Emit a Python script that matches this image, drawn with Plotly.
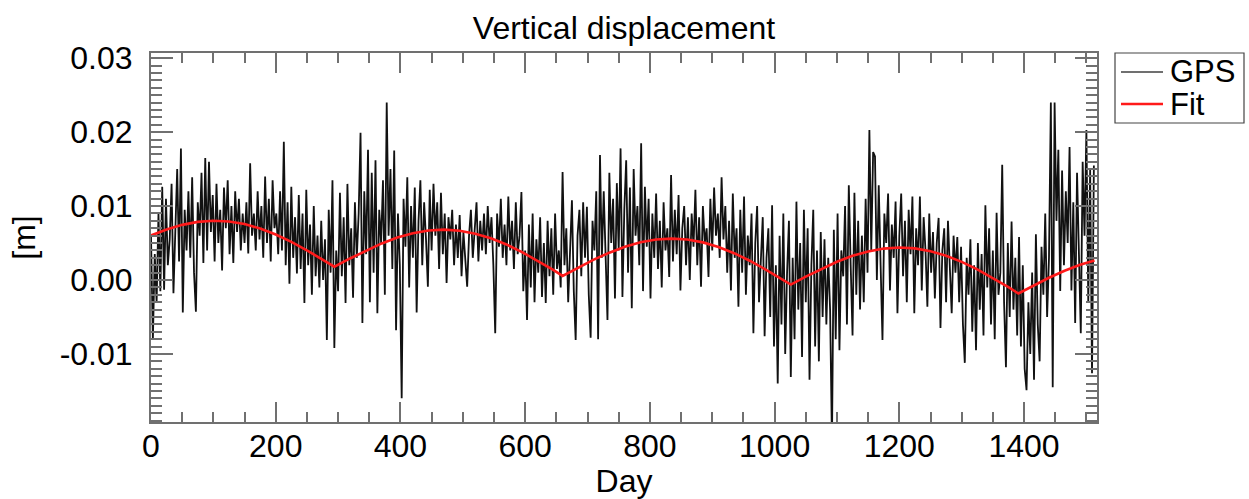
import numpy as np
import plotly.graph_objects as go

GPS_STEP_DAYS = 3
GPS_MM = [
    6.0, -8.1, 3.5, -3.0, 9.0, -1.5, 12.6, -1.3, 11.0, 2.0,
    5.5, 13.0, -1.8, 8.0, 15.0, 2.5, 17.8, -4.4, 9.5, 4.0,
    12.0, 3.0, 13.9, 1.0, -4.3, 10.5, 6.0, 14.5, 2.3, 16.5,
    4.0, 16.0, 6.5, 11.5, 2.5, 13.0, 5.0, 9.5, 1.3, 12.5,
    7.0, 13.5, 3.5, 10.0, 2.3, 12.0, 6.5, 11.0, 4.0, 9.0,
    5.0, 10.5, 3.6, 15.8, 6.0, 9.0, 4.0, 12.0, 5.5, 10.0,
    3.0, 14.0, 5.0, 11.0, 2.5, 13.5, 7.0, 9.0, 3.5, 12.0,
    4.0, 18.7, 2.0, 10.5, -0.5, 12.6, 3.0, 8.5, 0.9, 11.5,
    1.5, 9.0, -3.1, 12.2, 2.0, 7.5, -2.0, 10.0, 0.5, 6.0,
    -1.0, 8.0, 0.0, 5.5, -8.1, 9.5, 1.0, 13.5, -9.2, 4.0,
    -1.5, 11.8, 0.5, 8.5, -3.1, 13.0, 2.0, 7.0, -2.4, 10.5,
    3.0, 9.0, 19.9, -5.8, 12.0, 3.5, 17.6, -3.0, 14.5, 1.0,
    16.2, -4.5, 9.5, 5.0, 13.5, -2.0, 24.0, 6.0, 15.0, 1.5,
    17.5, -6.8, 9.0, 2.0, -16.0, 11.0, 4.5, 13.9, -1.0, 10.0,
    3.0, 12.5, -4.4, 8.0, 13.5, 2.0, 10.5, 5.5, -0.9, 12.2,
    4.0, 13.0, 6.0, 10.5, 1.5, 11.8, 3.5, 9.0, -0.4, 8.5,
    5.5, 9.5, 2.0, 7.5, 3.0, 8.8, 0.5, 6.5, 2.5, -0.9,
    6.0, 9.5, 3.0, 7.0, 10.5, 2.5, 8.0, 4.0, 9.0, 3.5,
    10.0, 5.0, 8.5, 2.0, -7.2, 9.0, 4.5, 11.0, 3.0, 7.5,
    2.0, 11.3, 4.0, 8.0, 1.5, 10.5, 3.5, 6.0, 11.9, -1.5,
    4.0, -5.4, 7.5, -1.0, 9.0, -3.0, 5.5, 1.0, 8.5, -2.3,
    5.0, -3.1, 8.0, 0.5, 7.0, -2.0, 9.0, 1.5, 4.0, -1.0,
    14.6, 2.0, 7.0, -3.0, 4.5, 10.8, -1.5, -8.1, 6.0, 9.5,
    0.5, 10.5, 3.0, 9.9, -2.0, -7.8, 8.0, 4.0, 12.0, -8.0,
    16.9, 3.0, 12.0, 2.0, -5.4, 14.5, 5.0, 11.0, -2.5, 13.1,
    4.0, 17.8, -2.3, 9.5, 16.2, 1.0, 12.5, -3.8, 15.0, 6.0,
    10.0, 2.0, 18.5, -1.5, 12.6, 4.5, 11.0, -2.5, 9.0, 3.0,
    11.7, 1.5, 8.0, -1.0, 10.5, 4.0, 7.0, 0.4, 14.2, 2.5,
    9.5, 3.5, 11.5, -1.4, 7.0, 10.0, 2.0, 8.5, 0.0, 9.0,
    4.5, 12.2, 2.0, 8.5, -0.9, 10.0, 5.0, 7.0, 0.4, 11.0,
    4.0, 12.5, 6.0, 9.0, 3.0, 13.9, 5.5, 10.0, 1.0, 8.0,
    -1.4, 11.7, 3.0, 7.0, -3.6, 9.5, 1.0, 11.3, -2.0, 6.0,
    2.0, 9.0, -7.2, 5.0, 10.0, -3.0, 4.0, 8.5, -7.6, 3.0,
    7.0, -5.0, 10.1, -9.0, 2.0, -14.0, 6.0, -6.0, 9.0, -10.0,
    1.0, 8.0, -13.1, 3.0, -8.0, 10.6, -4.0, 5.0, -10.4, 9.5,
    -3.0, 7.0, -13.5, 2.0, 9.5, -9.0, 4.0, -11.0, 6.5, -5.0,
    5.5, -6.0, 3.0, -4.0, -22.0, 6.8, -8.0, 9.0, -9.5, 4.0,
    0.5, 10.0, -6.0, 12.8, 2.0, -7.5, 11.8, -2.0, 8.0, -4.0,
    6.0, -3.0, 11.0, 1.0, 20.3, 4.0, 17.3, 16.7, 0.0, 12.8,
    2.0, -8.1, 9.0, 5.0, 11.7, -1.4, 7.5, 3.0, 10.6, -4.5,
    6.0, 11.7, 0.5, 8.0, -3.0, 9.5, 3.5, 11.3, -4.5, 7.0,
    2.0, 11.3, -1.4, 8.5, 4.0, -3.6, 9.0, 1.0, 6.5, -2.5,
    5.0, 8.4, -6.5, 4.0, 7.0, -3.0, 8.0, 0.5, -4.5, 6.0,
    1.0, 5.8, -3.0, 4.5, -6.0, -11.2, 3.0, -2.0, 5.5, -7.0,
    2.0, -9.5, 5.0, -4.0, 3.5, -7.5, 10.1, -1.0, 7.0, -6.0,
    4.0, -8.0, 9.1, -2.0, 1.0, 15.6, -3.0, -11.8, 5.0, -5.0,
    7.9, -4.0, 3.0, -7.5, 5.8, -9.0, 2.0, -12.0, -14.9, -3.0,
    -10.0, 1.0, -13.5, 6.2, -6.0, -11.0, 4.5, -2.0, 9.0, -5.0,
    3.0, 24.0, -14.5, 24.0, 8.0, 17.6, -1.5, 14.8, 2.0, 12.0,
    5.0, 18.0, -1.4, 10.5, -5.8, 14.5, 1.0, -7.2, 16.0, 6.0,
    20.3, -3.0, 14.9, -12.6, 15.5,
]

# Fitted seasonal model, read at these days (values in mm)
FIT_DAYS = [0, 25, 50, 75, 100, 125, 150, 175, 200, 225, 250, 275, 294,
            320, 345, 370, 395, 420, 445, 470, 495, 520, 545, 570, 595, 620, 645, 660,
            685, 710, 735, 760, 785, 810, 835, 860, 885, 910, 935, 960, 985, 1010, 1026,
            1050, 1075, 1100, 1125, 1150, 1175, 1200, 1225, 1250, 1275, 1300, 1325, 1350, 1375, 1391,
            1415, 1440, 1465, 1490, 1513]
FIT_MM = [6.02, 6.83, 7.46, 7.86, 8.02, 7.92, 7.57, 6.97, 6.15, 5.16, 4.02, 2.77, 1.80,
          2.95, 4.00, 4.95, 5.74, 6.32, 6.69, 6.81, 6.67, 6.27, 5.65, 4.81, 3.78, 2.61, 1.36, 0.56,
          1.70, 2.76, 3.70, 4.50, 5.10, 5.48, 5.60, 5.47, 5.09, 4.47, 3.63, 2.61, 1.45, 0.21, -0.62,
          0.45, 1.51, 2.47, 3.27, 3.86, 4.25, 4.39, 4.28, 3.90, 3.29, 2.46, 1.45, 0.29, -0.96, -1.82,
          -0.75, 0.31, 1.26, 2.06, 2.63]

SERIES_NAMES = ["GPS", "Fit"]
Y_TICKS = [-0.01, 0.0, 0.01, 0.02, 0.03]
X_TICKS = [0, 200, 400, 600, 800, 1000, 1200, 1400]

days = np.arange(len(GPS_MM)) * GPS_STEP_DAYS
gps = np.array(GPS_MM) / 1000.0
fit = np.array(FIT_MM) / 1000.0

FONT = "Liberation Sans, Arial, Helvetica, sans-serif"
AX = "#707070"
FS = 32
GPS_COLOR = "#111111"
FIT_COLOR = "#ff1a1a"

W, H = 1249, 499
L, R, T, B = 151, 152, 53, 77
PW, PH = W - L - R, H - T - B


def px_x(p):  # pixel x -> paper x
    return (p - L) / PW


def px_y(p):  # pixel y -> paper y
    return (H - B - p) / PH


fig = go.Figure()
fig.add_trace(go.Scatter(x=days, y=gps, mode="lines", name=SERIES_NAMES[0],
                         line=dict(color=GPS_COLOR, width=1.8), showlegend=False))
fig.add_trace(go.Scatter(x=FIT_DAYS, y=fit, mode="lines", name=SERIES_NAMES[1],
                         line=dict(color=FIT_COLOR, width=2.6), showlegend=False))

# legend box drawn outside the plot (IDL style)
shapes = [
    dict(type="rect", xref="paper", yref="paper", x0=px_x(1115), x1=px_x(1244),
         y0=px_y(123), y1=px_y(53), line=dict(color="#444444", width=1.2), fillcolor="white"),
    dict(type="line", xref="paper", yref="paper", x0=px_x(1121), x1=px_x(1163),
         y0=px_y(72), y1=px_y(72), line=dict(color="#707070", width=2)),
    dict(type="line", xref="paper", yref="paper", x0=px_x(1121), x1=px_x(1163),
         y0=px_y(104), y1=px_y(104), line=dict(color=FIT_COLOR, width=2.6)),
]
annotations = [
    dict(text=SERIES_NAMES[0], xref="paper", yref="paper", x=px_x(1168), y=px_y(72),
         xanchor="left", yanchor="middle", showarrow=False,
         font=dict(family=FONT, size=31, color="black")),
    dict(text=SERIES_NAMES[1], xref="paper", yref="paper", x=px_x(1168), y=px_y(104),
         xanchor="left", yanchor="middle", showarrow=False,
         font=dict(family=FONT, size=31, color="black")),
]

fig.update_layout(
    width=W, height=H,
    margin=dict(l=L, r=R, t=T, b=B, autoexpand=False),
    paper_bgcolor="white", plot_bgcolor="white",
    font=dict(family=FONT, size=FS, color="black"),
    title=dict(text="Vertical displacement", x=0.5, xref="paper", xanchor="center",
               y=1 - 28 / H, yref="container", yanchor="middle", automargin=False,
               font=dict(family=FONT, size=FS, color="black")),
    showlegend=False,
    shapes=shapes,
    annotations=annotations,
)

fig.update_xaxes(
    range=[0, 1517], tickvals=X_TICKS, ticktext=[str(v) for v in X_TICKS],
    showgrid=False, zeroline=False, showline=True, linecolor=AX, linewidth=2,
    mirror="ticks", ticks="inside", ticklen=20, tickwidth=2, tickcolor=AX,
    minor=dict(dtick=50, tick0=0, ticks="inside", ticklen=10, tickwidth=2, tickcolor=AX, showgrid=False),
    title=dict(text="Day", font=dict(family=FONT, size=FS), standoff=0),
    tickfont=dict(family=FONT, size=FS), ticklabelstandoff=-5, automargin=False,
)
fig.update_yaxes(
    range=[-0.0192, 0.0307], tickvals=Y_TICKS, ticktext=[f"{v:.2f}" for v in Y_TICKS],
    showgrid=False, zeroline=False, showline=True, linecolor=AX, linewidth=2,
    mirror="ticks", ticks="inside", ticklen=22, tickwidth=2, tickcolor=AX,
    minor=dict(dtick=0.001, tick0=0, ticks="inside", ticklen=11, tickwidth=2, tickcolor=AX, showgrid=False),
    title=dict(text="[m]", font=dict(family=FONT, size=FS), standoff=14),
    tickfont=dict(family=FONT, size=FS), ticklabelstandoff=10, automargin=False,
)

fig.write_html("out.html", config={"displayModeBar": False},
               post_script="document.body.style.margin='0px';document.body.style.overflow='hidden';")
